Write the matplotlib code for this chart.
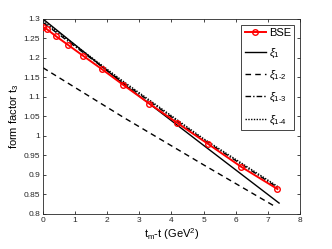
import matplotlib
matplotlib.use("Agg")
import matplotlib.pyplot as plt
import numpy as np

plt.rcParams['font.family'] = ['Liberation Sans', 'DejaVu Sans']
plt.rcParams['mathtext.fontset'] = 'custom'
plt.rcParams['mathtext.rm'] = 'Liberation Sans'
plt.rcParams['mathtext.it'] = 'Liberation Sans:italic'

# BSE data
bse_t = [0.01, 0.12, 0.40, 0.79, 1.26, 1.84, 2.50, 3.31, 4.17, 5.15, 6.17, 7.30]
bse_f = [1.279, 1.274, 1.256, 1.233, 1.205, 1.171, 1.131, 1.083, 1.034, 0.979, 0.921, 0.864]

# fits
xi1_t = [0.0, 2.5, 5.0, 7.35]
xi1_f = [1.300, 1.134, 0.976, 0.828]
xi12_t = [0.0, 2.5, 5.0, 7.25]
xi12_f = [1.175, 1.048, 0.926, 0.818]
xi13_t = [0.0, 2.5, 5.0, 7.3]
xi13_f = [1.291, 1.137, 0.990, 0.868]
xi14_t = [0.0, 2.5, 5.0, 7.3]
xi14_f = [1.295, 1.140, 0.993, 0.871]

fig = plt.figure(figsize=(3.32, 2.49), dpi=100)
ax = fig.add_axes([0.1295, 0.1406, 0.774, 0.7831])

ax.plot(bse_t, bse_f, color='red', lw=1.4, marker='o', ms=4, mfc='none', mew=1.0, label='BSE', zorder=5)
ax.plot(xi1_t, xi1_f, color='black', lw=1.0, ls='-', label=r'$\xi_1$')
ax.plot(xi12_t, xi12_f, color='black', lw=1.0, ls=(0, (4, 3)), label=r'$\xi_{1\text{-}2}$')
ax.plot(xi13_t, xi13_f, color='black', lw=1.0, ls=(0, (4, 1.5, 1, 1.5)), label=r'$\xi_{1\text{-}3}$')
ax.plot(xi14_t, xi14_f, color='black', lw=1.0, ls=(0, (1, 1)), label=r'$\xi_{1\text{-}4}$')

ax.set_xlim(0, 8)
ax.set_ylim(0.8, 1.3)
ax.set_xticks(range(0, 9))
ax.set_yticks(np.arange(0.8, 1.3001, 0.05))
ax.set_yticklabels(['0.8', '0.85', '0.9', '0.95', '1', '1.05', '1.1', '1.15', '1.2', '1.25', '1.3'])
ax.tick_params(direction='in', top=True, right=True, labelsize=6, length=2.5, width=0.6, colors='#262626', pad=2)
for s in ax.spines.values():
    s.set_color('#262626')
    s.set_linewidth(0.6)

ax.set_xlabel(r'$\mathregular{t_m}$-t (GeV$\mathregular{^2}$)', fontsize=8, labelpad=2)
ax.set_ylabel(r'form factor $\mathregular{t_3}$', fontsize=8, labelpad=2)

leg = ax.legend(loc='upper right', fontsize=8, handlelength=1.9, labelspacing=0.8,
                borderpad=0.3, handletextpad=0.3, fancybox=False, framealpha=1,
                edgecolor='#262626', borderaxespad=0.5)
leg.get_frame().set_linewidth(0.6)

fig.savefig('out.png', dpi=100)
